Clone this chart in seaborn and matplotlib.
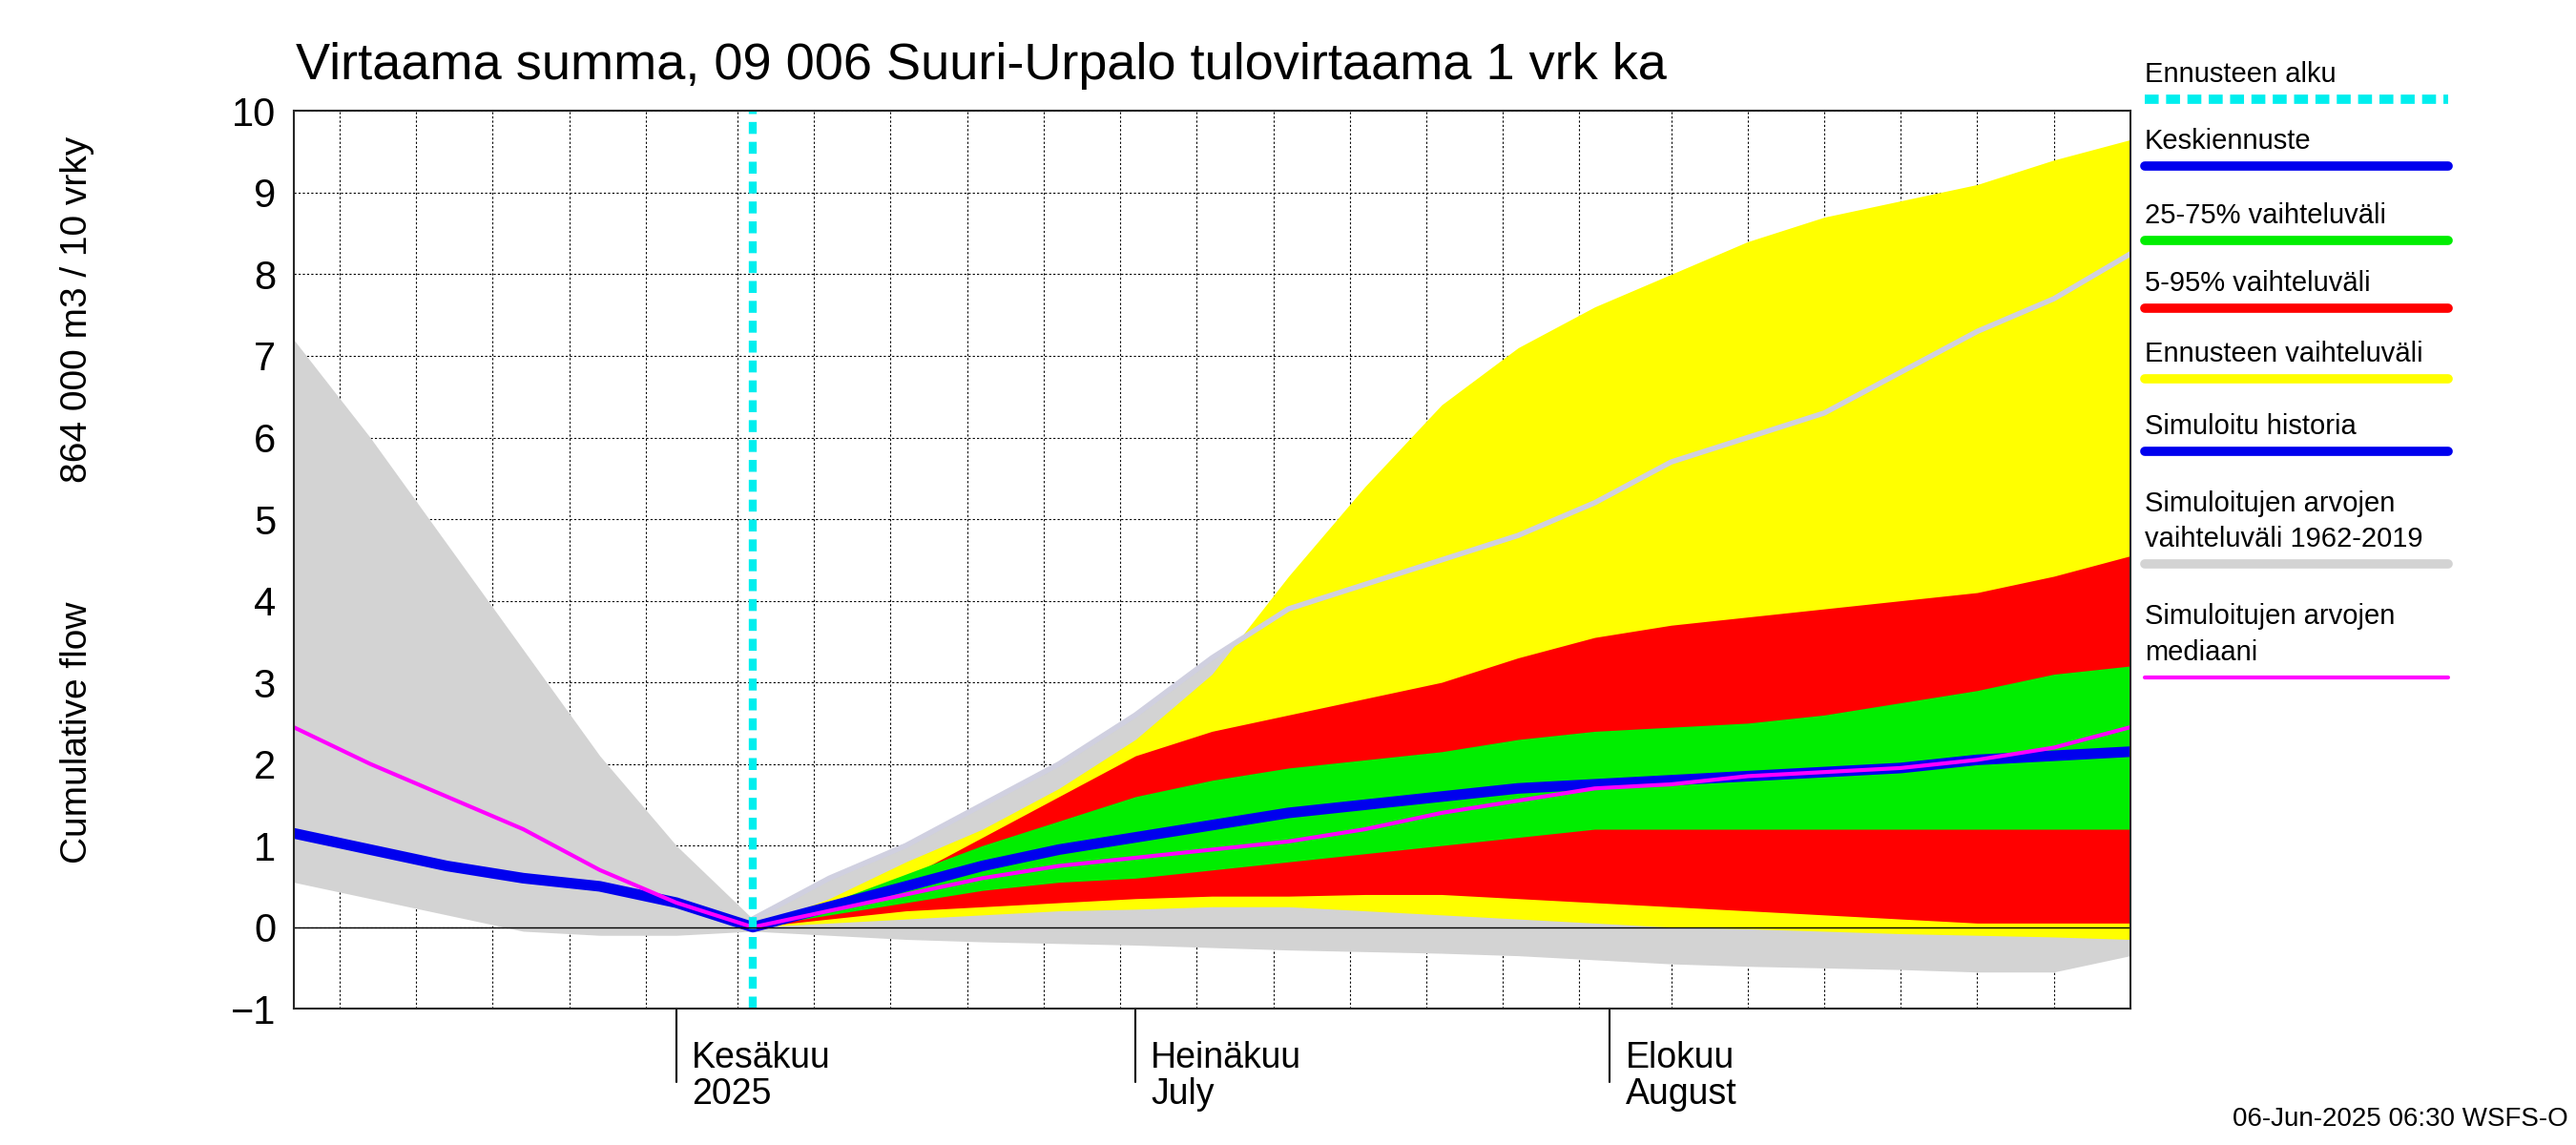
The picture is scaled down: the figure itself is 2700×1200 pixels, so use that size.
import numpy as np
import pandas as pd
import matplotlib
matplotlib.use("Agg")
import matplotlib.pyplot as plt
import matplotlib.dates as mdates
import seaborn as sns

sns.set_style("white")
plt.rcParams["font.family"] = "Liberation Sans"
plt.rcParams["text.color"] = "black"
plt.rcParams["ytick.color"] = "black"

# days after 2025-05-07
days = [0, 5, 10, 15, 20, 25, 30, 35, 40, 45, 50, 55, 60, 65, 70, 75, 80, 85, 90, 95, 100, 105, 110, 115, 120]
grey_hi = [7.2, 6.0, 4.7, 3.4, 2.1, 1.0, 0.1, 0.6, 1.0, 1.5, 2.0, 2.6, 3.3, 3.9, 4.2, 4.5, 4.8, 5.2, 5.7, 6.0, 6.3, 6.8, 7.3, 7.7, 8.25]
grey_lo = [0.55, 0.35, 0.15, -0.05, -0.1, -0.1, -0.05, -0.1, -0.15, -0.18, -0.2, -0.22, -0.25, -0.28, -0.3, -0.32, -0.35, -0.4, -0.45, -0.48, -0.5, -0.52, -0.55, -0.55, -0.35]
median = [2.45, 2.0, 1.6, 1.2, 0.7, 0.3, 0.0, 0.2, 0.4, 0.6, 0.75, 0.85, 0.95, 1.05, 1.2, 1.4, 1.55, 1.7, 1.75, 1.85, 1.9, 1.95, 2.05, 2.2, 2.45]
mean_fc = [1.15, 0.95, 0.75, 0.6, 0.5, 0.3, 0.0, 0.25, 0.5, 0.75, 0.95, 1.1, 1.25, 1.4, 1.5, 1.6, 1.7, 1.75, 1.8, 1.85, 1.9, 1.95, 2.05, 2.1, 2.15]

fc_days = days[6:]
yel_hi = [0, 0.35, 0.8, 1.2, 1.7, 2.3, 3.1, 4.3, 5.4, 6.4, 7.1, 7.6, 8.0, 8.4, 8.7, 8.9, 9.1, 9.4, 9.65]
yel_lo = [0, 0.05, 0.1, 0.15, 0.2, 0.22, 0.25, 0.25, 0.2, 0.15, 0.1, 0.05, 0.0, -0.02, -0.05, -0.08, -0.1, -0.12, -0.15]
red_hi = [0, 0.25, 0.6, 1.1, 1.6, 2.1, 2.4, 2.6, 2.8, 3.0, 3.3, 3.55, 3.7, 3.8, 3.9, 4.0, 4.1, 4.3, 4.55]
red_lo = [0, 0.1, 0.2, 0.25, 0.3, 0.35, 0.38, 0.38, 0.4, 0.4, 0.35, 0.3, 0.25, 0.2, 0.15, 0.1, 0.05, 0.05, 0.05]
grn_hi = [0, 0.3, 0.65, 1.0, 1.3, 1.6, 1.8, 1.95, 2.05, 2.15, 2.3, 2.4, 2.45, 2.5, 2.6, 2.75, 2.9, 3.1, 3.2]
grn_lo = [0, 0.15, 0.3, 0.45, 0.55, 0.6, 0.7, 0.8, 0.9, 1.0, 1.1, 1.2, 1.2, 1.2, 1.2, 1.2, 1.2, 1.2, 1.2]

start = pd.Timestamp("2025-05-07")
t = start + pd.to_timedelta(days, unit="D")
tf = start + pd.to_timedelta(fc_days, unit="D")
fc_start = pd.Timestamp("2025-06-06")

fig = plt.figure(figsize=(27, 12), dpi=100)
ax = fig.add_axes([0.114, 0.119, 0.713, 0.784])

ax.fill_between(t, grey_lo, grey_hi, color="#d3d3d3", lw=0)
ax.fill_between(tf, yel_lo, yel_hi, color="#ffff00", lw=0)
ax.fill_between(tf, red_lo, red_hi, color="#ff0000", lw=0)
ax.fill_between(tf, grn_lo, grn_hi, color="#00ee00", lw=0)
ax.plot(t[6:], grey_hi[6:], color="#d0d0e0", lw=4)
sns.lineplot(x=t, y=mean_fc, ax=ax, color="#0000ee", lw=8)
sns.lineplot(x=t, y=median, ax=ax, color="#ff00ff", lw=3)
ax.axvline(fc_start, color="#00eeee", lw=6, ls=(0, (1.5, 1)))
ax.axhline(0, color="black", lw=1)
ax.set_xlabel("")
ax.set_ylabel("")

ax.set_xlim(start, start + pd.Timedelta(days=120))
ax.set_ylim(-1, 10)
ax.set_yticks(range(-1, 11))
ax.tick_params(axis="y", labelsize=30, length=10)

ax.xaxis.set_major_locator(mdates.DayLocator(bymonthday=[5, 10, 15, 20, 25, 30]))
ax.xaxis.set_major_formatter(plt.NullFormatter())
ax.tick_params(axis="x", length=20, width=1.5, direction="out")
ax.grid(True, color="black", ls=(0, (2, 2)), lw=0.8)
for m, lab in [(6, "Kesäkuu\n2025"), (7, "Heinäkuu\nJuly"), (8, "Elokuu\nAugust")]:
    d = pd.Timestamp(2025, m, 1)
    ax.plot([d, d], [-1, -1.9], color="black", lw=1.5, clip_on=False)
    ax.text(d + pd.Timedelta(days=1), -1.4, lab, fontsize=27, va="top", ha="left", linespacing=1.05)
for s in ax.spines.values():
    s.set_linewidth(1.5)

fig.text(0.115, 0.922, "Virtaama summa, 09 006 Suuri-Urpalo tulovirtaama 1 vrk ka", fontsize=39, ha="left", va="bottom")
fig.text(0.030, 0.36, "Cumulative flow", rotation=90, fontsize=28, ha="center", va="center")
fig.text(0.030, 0.73, "864 000 m3 / 10 vrky", rotation=90, fontsize=28, ha="center", va="center")
fig.text(0.997, 0.012, "06-Jun-2025 06:30 WSFS-O", fontsize=20, ha="right", va="bottom")

legend = [
    (["Ennusteen alku"], 60, "#00eeee", (0, (1.5, 0.8))),
    (["Keskiennuste"], 100, "#0000ee", "-"),
    (["25-75% vaihteluväli"], 145, "#00ee00", "-"),
    (["5-95% vaihteluväli"], 186, "#ff0000", "-"),
    (["Ennusteen vaihteluväli"], 228, "#ffff00", "-"),
    (["Simuloitu historia"], 272, "#0000ee", "-"),
    (["Simuloitujen arvojen", "vaihteluväli 1962-2019"], 340, "#d3d3d3", "-"),
    (["Simuloitujen arvojen", "mediaani"], 408, "#ff00ff", "-"),
]
for lines, ly, col, ls in legend:
    yl = 1 - ly / 690
    fig.add_artist(plt.Line2D([1292 / 1552, 1475 / 1552], [yl, yl], color=col, lw=3 if col == "#ff00ff" else 7, ls=ls))
    for i, txt in enumerate(reversed(lines)):
        fig.text(1292 / 1552, yl + 0.010 + i * 0.031, txt, fontsize=21, ha="left", va="bottom")

fig.savefig("out.png")
